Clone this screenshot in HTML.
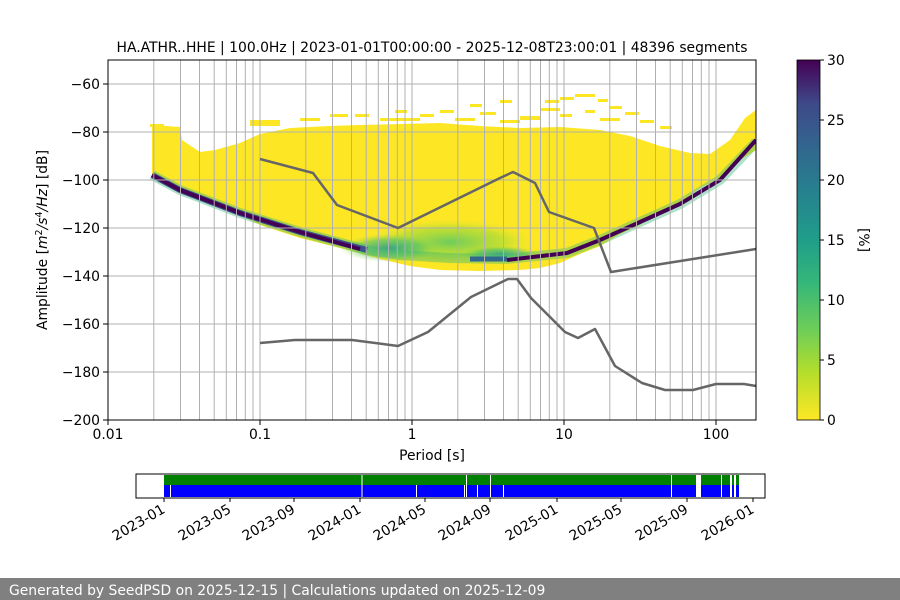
<!DOCTYPE html>
<html><head><meta charset="utf-8"><style>
html,body{margin:0;padding:0;background:#fff;}
svg{display:block;font-family:"DejaVu Sans","Liberation Sans",sans-serif;}
</style></head><body>
<svg width="900" height="600" viewBox="0 0 900 600" xmlns="http://www.w3.org/2000/svg">
<defs>
<linearGradient id="cb" x1="0" y1="1" x2="0" y2="0">
<stop offset="0" stop-color="#fde725"/><stop offset="0.13" stop-color="#b5de2b"/><stop offset="0.25" stop-color="#6ece58"/><stop offset="0.38" stop-color="#35b779"/><stop offset="0.5" stop-color="#1f9e89"/><stop offset="0.63" stop-color="#26828e"/><stop offset="0.75" stop-color="#31688e"/><stop offset="0.88" stop-color="#3e4989"/><stop offset="1" stop-color="#440154"/>
</linearGradient>
<radialGradient id="gb" cx="0.5" cy="0.5" r="0.5">
<stop offset="0" stop-color="#5ec962" stop-opacity="0.9"/><stop offset="0.6" stop-color="#a0da39" stop-opacity="0.6"/><stop offset="1" stop-color="#fde725" stop-opacity="0"/>
</radialGradient>
<radialGradient id="tb" cx="0.5" cy="0.5" r="0.5">
<stop offset="0" stop-color="#2a9d8f" stop-opacity="0.9"/><stop offset="0.6" stop-color="#4ac16d" stop-opacity="0.6"/><stop offset="1" stop-color="#a0da39" stop-opacity="0"/>
</radialGradient>
<clipPath id="ax"><rect x="108" y="60" width="648" height="360"/></clipPath>
</defs>
<text x="432" y="52" font-size="13.9" text-anchor="middle">HA.ATHR..HHE | 100.0Hz | 2023-01-01T00:00:00 - 2025-12-08T23:00:01 | 48396 segments</text>
<g clip-path="url(#ax)">
<polygon fill="#fde725" points="152,125 180,127 182,140 200,152 215,150 240,143 260,134 290,128 330,126 360,125 400,124 440,123 480,126 520,128 560,127 600,130 630,136 660,146 690,153 710,154 730,140 745,118 756,110 756,150 740,160 720,178 700,188 680,203 660,212 640,225 620,234 600,246 580,254 560,263 540,268 520,270 480,271 440,270 410,266 380,259 340,248 300,238 260,225 230,210 200,198 180,190 152,178"/>
<g fill="#fde725">
<rect x="150" y="124" width="14" height="3"/><rect x="250" y="120" width="30" height="6"/><rect x="300" y="118" width="20" height="3"/><rect x="330" y="114" width="18" height="3"/><rect x="355" y="114" width="14" height="3"/><rect x="395" y="110" width="12" height="3"/><rect x="380" y="118" width="40" height="3"/><rect x="440" y="110" width="14" height="3"/><rect x="470" y="104" width="12" height="3"/><rect x="500" y="100" width="12" height="3"/><rect x="520" y="116" width="20" height="4"/>
<rect x="545" y="100" width="14" height="3"/><rect x="560" y="97" width="14" height="3"/><rect x="575" y="94" width="20" height="3"/><rect x="598" y="99" width="10" height="3"/><rect x="610" y="106" width="12" height="3"/><rect x="625" y="112" width="14" height="3"/><rect x="540" y="108" width="20" height="3"/><rect x="560" y="114" width="12" height="3"/><rect x="585" y="110" width="10" height="3"/><rect x="640" y="120" width="14" height="3"/><rect x="660" y="126" width="12" height="3"/><rect x="600" y="118" width="20" height="3"/><rect x="480" y="112" width="16" height="3"/><rect x="420" y="114" width="14" height="3"/><rect x="455" y="118" width="20" height="3"/><rect x="500" y="120" width="20" height="3"/>
</g>
<ellipse cx="450" cy="242" rx="90" ry="24" fill="url(#gb)"/>
<ellipse cx="390" cy="248" rx="50" ry="14" fill="url(#tb)"/>
<ellipse cx="500" cy="254" rx="40" ry="8" fill="url(#tb)"/>
<polyline fill="none" stroke="#35b779" stroke-width="10" stroke-opacity="0.4" points="152,175 180,190 240,213 300,232 367,250 400,255 450,258 507,259 567,253 600,240 640,222 680,204 720,180 756,142"/>
<polyline fill="none" stroke="#3b528b" stroke-width="6" points="152,175 180,190 240,213 300,232 367,250"/>
<polyline fill="none" stroke="#440154" stroke-width="4" points="152,175 180,190 240,213 300,232 360,249"/>
<polyline fill="none" stroke="#31688e" stroke-width="5" points="470,259 507,259"/>
<polyline fill="none" stroke="#440154" stroke-width="4" points="507,260 567,253 600,240 640,222 680,204 720,180 756,140"/>
</g>
<g stroke="#b0b0b0" stroke-width="1">
<path d="M153.8 60V420M180.5 60V420M199.5 60V420M214.2 60V420M226.3 60V420M236.5 60V420M245.3 60V420M253 60V420M260 60V420M305.8 60V420M332.5 60V420M351.5 60V420M366.2 60V420M378.3 60V420M388.5 60V420M397.3 60V420M405 60V420M412 60V420M457.8 60V420M484.5 60V420M503.5 60V420M518.2 60V420M530.3 60V420M540.5 60V420M549.3 60V420M557 60V420M564 60V420M609.8 60V420M636.5 60V420M655.5 60V420M670.2 60V420M682.3 60V420M692.5 60V420M701.3 60V420M709 60V420M716 60V420"/>
<path d="M108 84H756M108 132H756M108 180H756M108 228H756M108 276H756M108 324H756M108 372H756"/>
</g>
<g fill="none" stroke="#666" stroke-width="2.5" stroke-linejoin="round">
<polyline points="260,159 313,173 337,205 398,228 500,178 513,172 535,183 549,212 594,228 611,272 756,249"/>
<polyline points="260,343 295,340 352,340 398,346 428,332 471,297 508,279 517,279 531,298 565,332 578,338 595,329 615,366 642,383 665,390 693,390 716,384 744,384 756,386"/>
</g>
<rect x="108" y="60" width="648" height="360" fill="none" stroke="#000" stroke-width="1"/>
<g font-size="13.9" text-anchor="end">
<text x="100" y="89">−60</text><text x="100" y="137">−80</text><text x="100" y="185">−100</text><text x="100" y="233">−120</text><text x="100" y="281">−140</text><text x="100" y="329">−160</text><text x="100" y="377">−180</text><text x="100" y="425">−200</text>
</g>
<path d="M103 84H108M103 132H108M103 180H108M103 228H108M103 276H108M103 324H108M103 372H108M103 420H108" stroke="#000"/>
<path d="M108 420V425M260 420V425M412 420V425M564 420V425M716 420V425" stroke="#000"/>
<g font-size="13.9" text-anchor="middle">
<text x="108" y="439">0.01</text><text x="260" y="439">0.1</text><text x="412" y="439">1</text><text x="564" y="439">10</text><text x="716" y="439">100</text>
<text x="432" y="460">Period [s]</text>
</g>
<text transform="translate(47,240) rotate(-90)" font-size="13.9" text-anchor="middle">Amplitude [<tspan font-style="italic">m</tspan><tspan font-size="9.5" dy="-5">2</tspan><tspan dy="5" font-style="italic">/s</tspan><tspan font-size="9.5" dy="-5">4</tspan><tspan dy="5" font-style="italic">/Hz</tspan>] [dB]</text>
<rect x="797" y="60" width="23" height="360" fill="url(#cb)"/>
<rect x="797" y="60" width="23" height="360" fill="none" stroke="#000" stroke-width="0.8"/>
<path d="M820 60h4M820 120h4M820 180h4M820 240h4M820 300h4M820 360h4M820 420h4" stroke="#000"/>
<g font-size="13.9">
<text x="827" y="65">30</text><text x="827" y="125">25</text><text x="827" y="185">20</text><text x="827" y="245">15</text><text x="827" y="305">10</text><text x="827" y="365">5</text><text x="827" y="425">0</text>
</g>
<text transform="translate(859,240) rotate(90)" font-size="13.9" text-anchor="middle">[%]</text>
<rect x="164" y="475" width="575" height="10" fill="#008000"/>
<rect x="164" y="485" width="575" height="12" fill="#0000ff"/>
<g fill="#fff">
<rect x="361.5" y="475" width="1" height="22"/><rect x="466" y="475" width="1" height="22"/><rect x="490" y="475" width="1" height="22"/><rect x="671" y="475" width="1" height="22"/><rect x="696" y="475" width="5" height="22"/><rect x="721" y="475" width="1" height="22"/><rect x="730" y="475" width="2" height="22"/><rect x="734" y="475" width="2" height="22"/>
<rect x="170" y="485" width="1" height="12"/><rect x="416" y="485" width="1" height="12"/><rect x="464" y="485" width="1" height="12"/><rect x="477" y="485" width="1" height="12"/><rect x="503" y="485" width="1" height="12"/>
</g>
<rect x="136" y="474" width="629" height="24" fill="none" stroke="#000" stroke-width="1"/>
<path d="M164 498v4M230 498v4M294 498v4M360 498v4M425 498v4M490 498v4M557 498v4M621 498v4M687 498v4M753 498v4" stroke="#000"/>
<g font-size="13.9" text-anchor="end">
<text transform="translate(166,512) rotate(-30)">2023-01</text>
<text transform="translate(232,512) rotate(-30)">2023-05</text>
<text transform="translate(296,512) rotate(-30)">2023-09</text>
<text transform="translate(362,512) rotate(-30)">2024-01</text>
<text transform="translate(427,512) rotate(-30)">2024-05</text>
<text transform="translate(492,512) rotate(-30)">2024-09</text>
<text transform="translate(559,512) rotate(-30)">2025-01</text>
<text transform="translate(623,512) rotate(-30)">2025-05</text>
<text transform="translate(689,512) rotate(-30)">2025-09</text>
<text transform="translate(755,512) rotate(-30)">2026-01</text>
</g>
<rect x="0" y="578" width="900" height="22" fill="#808080"/>
<text x="9" y="595" font-size="13.9" fill="#fff">Generated by SeedPSD on 2025-12-15 | Calculations updated on 2025-12-09</text>
</svg>
</body></html>
